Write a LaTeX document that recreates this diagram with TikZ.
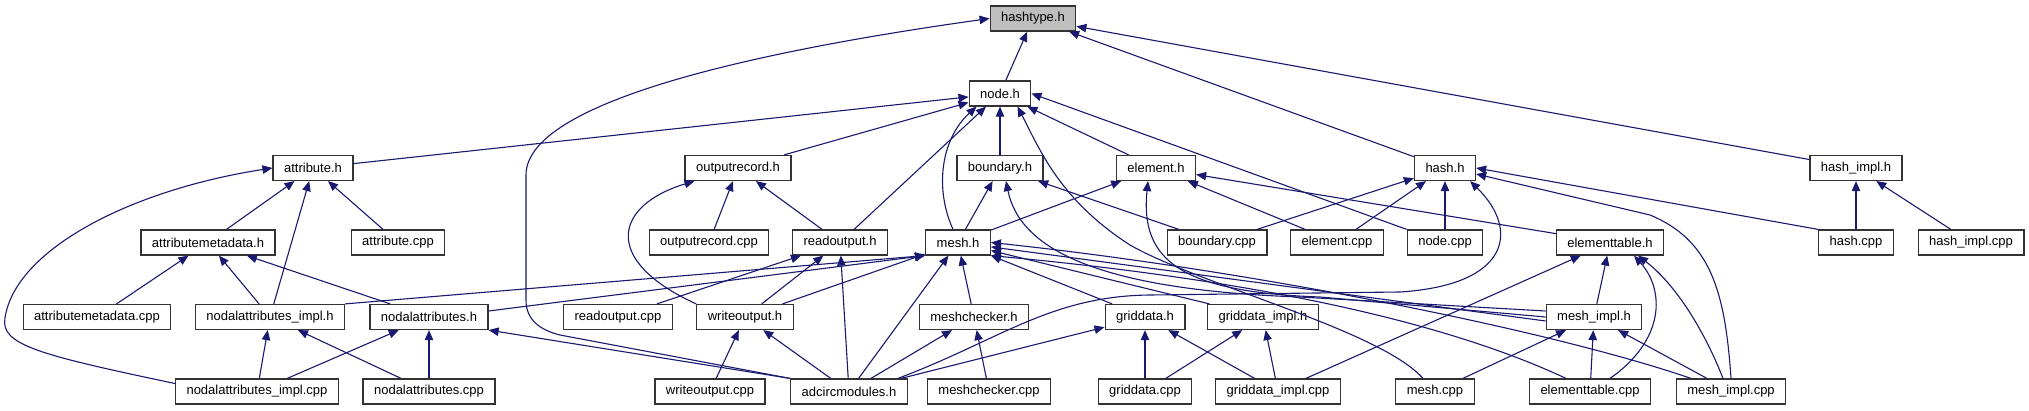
\documentclass[tikz,border=0pt]{standalone}
\usepackage{fontspec}
\setmainfont{Liberation Sans}
\usepackage{xcolor}
\usetikzlibrary{arrows.meta}
\definecolor{midblue}{HTML}{191970}
\tikzset{
  file/.style={rectangle,draw=black!80,fill=white,line width=.6pt,minimum height=12.5pt,inner xsep=5.5pt,inner ysep=0pt,font=\fontsize{6.5}{7.5}\selectfont},
  filecur/.style={file,fill=black!25},
  incl/.style={line width=.55pt,midblue,-{Triangle[length=5pt,width=4.2pt]}},
}
\begin{document}
\begin{tikzpicture}[x=.5pt,y=-.5pt]
  \path[use as bounding box,fill=white] (0,0) rectangle (2029,411);
  \node[filecur] (hashtype) at (1033,18.5) {hashtype.h};
  \node[file] (nodeh) at (1000,93.5) {node.h};
  \node[file] (attrh) at (313,168) {attribute.h};
  \node[file] (outrech) at (738,168) {outputrecord.h};
  \node[file] (boundh) at (1000,168) {boundary.h};
  \node[file] (elemh) at (1156,168) {element.h};
  \node[file] (hashh) at (1445,168) {hash.h};
  \node[file] (hashimplh) at (1856,168) {hash\_impl.h};
  \node[file] (attrmetah) at (208,242.5) {attributemetadata.h};
  \node[file] (attrcpp) at (398,242.5) {attribute.cpp};
  \node[file] (outreccpp) at (709,242.5) {outputrecord.cpp};
  \node[file] (readouth) at (840,242.5) {readoutput.h};
  \node[file] (meshh) at (958,242.5) {mesh.h};
  \node[file] (boundcpp) at (1217,242.5) {boundary.cpp};
  \node[file] (elemcpp) at (1337,242.5) {element.cpp};
  \node[file] (nodecpp) at (1445,242.5) {node.cpp};
  \node[file] (etabh) at (1610,242.5) {elementtable.h};
  \node[file] (hashcpp) at (1856,242.5) {hash.cpp};
  \node[file] (hashimplcpp) at (1971,242.5) {hash\_impl.cpp};
  \node[file] (attrmetacpp) at (97,317) {attributemetadata.cpp};
  \node[file] (nodimplh) at (270,317) {nodalattributes\_impl.h};
  \node[file] (nodh) at (429,317) {nodalattributes.h};
  \node[file] (readoutcpp) at (618,317) {readoutput.cpp};
  \node[file] (writeouth) at (745,317) {writeoutput.h};
  \node[file] (mcheckh) at (974,317) {meshchecker.h};
  \node[file] (gridh) at (1145,317) {griddata.h};
  \node[file] (gridimplh) at (1263,317) {griddata\_impl.h};
  \node[file] (meshimplh) at (1594,317) {mesh\_impl.h};
  \node[file] (nodimplcpp) at (257,391.5) {nodalattributes\_impl.cpp};
  \node[file] (nodcpp) at (429,391.5) {nodalattributes.cpp};
  \node[file] (writeoutcpp) at (710,391.5) {writeoutput.cpp};
  \node[file] (adcirch) at (849,391.5) {adcircmodules.h};
  \node[file] (mcheckcpp) at (989,391.5) {meshchecker.cpp};
  \node[file] (gridcpp) at (1145,391.5) {griddata.cpp};
  \node[file] (gridimplcpp) at (1278,391.5) {griddata\_impl.cpp};
  \node[file] (meshcpp) at (1435,391.5) {mesh.cpp};
  \node[file] (etabcpp) at (1590,391.5) {elementtable.cpp};
  \node[file] (meshimplcpp) at (1731,391.5) {mesh\_impl.cpp};
  \draw[incl] (nodeh) -- (hashtype);
  \draw[incl] (hashh) -- (hashtype);
  \draw[incl] (hashimplh) -- (hashtype);
  \draw[incl] (adcirch.north west) -- (560,335) .. controls (540,330) and (526,320) .. (526,300) -- (526,175) .. controls (526,95) and (800,45) .. (hashtype.west);
  \draw[incl] (attrh) -- (nodeh);
  \draw[incl] (outrech) -- (nodeh);
  \draw[incl] (readouth) -- (nodeh);
  \draw[incl] (boundh) -- (nodeh);
  \draw[incl] (elemh) -- (nodeh);
  \draw[incl] (nodecpp.north west) -- (nodeh.east);
  \draw[incl] ([xshift=-2.5pt]meshh.north) .. controls (935,190) and (940,140) .. ([xshift=4pt]nodeh.south west);
  \draw[incl] ([xshift=-6pt]meshcpp.north) .. controls (1380,330) and (1200,285) .. (1130,245) .. controls (1060,200) and (1040,150) .. ([xshift=-7pt]nodeh.south east);
  \draw[incl] (attrmetah) -- (attrh);
  \draw[incl] (nodimplh) -- (attrh);
  \draw[incl] (attrcpp) -- (attrh);
  \draw[incl] ([yshift=4pt]nodimplcpp.west) .. controls (40,355) and (0,345) .. (5,318) .. controls (15,250) and (130,190) .. (attrh.west);
  \draw[incl] (attrmetacpp) -- (attrmetah);
  \draw[incl] (nodimplh) -- (attrmetah);
  \draw[incl] (nodh) -- (attrmetah);
  \draw[incl] (nodimplcpp) -- (nodimplh);
  \draw[incl] (nodcpp) -- (nodimplh);
  \draw[incl] (nodimplcpp) -- (nodh);
  \draw[incl] (nodcpp) -- (nodh);
  \draw[incl] (adcirch.north west) -- (nodh.south east);
  \draw[incl] (outreccpp) -- (outrech);
  \draw[incl] (readouth) -- (outrech);
  \draw[incl] (writeouth.north west) .. controls (600,260) and (615,205) .. ([xshift=5pt]outrech.south west);
  \draw[incl] (readoutcpp) -- (readouth);
  \draw[incl] (writeouth) -- (readouth);
  \draw[incl] (adcirch) -- (readouth);
  \draw[incl] (meshh) -- (boundh);
  \draw[incl] (boundcpp) -- (boundh);
  \draw[incl] ([yshift=3pt]meshimplh.west) -- (1300,297) .. controls (1100,290) and (1020,250) .. ([xshift=3pt]boundh.south);
  \draw[incl] (meshh) -- (elemh);
  \draw[incl] (elemcpp) -- (elemh);
  \draw[incl] (etabh) -- (elemh);
  \draw[incl] (meshimplh.west) -- (1320,297) .. controls (1180,292) and (1140,260) .. ([xshift=-4pt]elemh.south);
  \draw[incl] (boundcpp) -- (hashh);
  \draw[incl] (elemcpp) -- (hashh);
  \draw[incl] (nodecpp) -- (hashh);
  \draw[incl] (hashcpp.north west) -- (hashh.east);
  \draw[incl] ([xshift=-5pt]adcirch.north east) .. controls (1000,340) and (1050,296) .. (1150,295) -- (1400,292) .. controls (1510,285) and (1520,230) .. ([xshift=-3pt]hashh.south east);
  \draw[incl] (meshimplcpp.north) .. controls (1725,290) and (1710,240) .. (1650,215) -- ([yshift=-3pt]hashh.east);
  \draw[incl] (hashcpp) -- (hashimplh);
  \draw[incl] (hashimplcpp) -- (hashimplh);
  \draw[incl] (nodimplh.north east) -- (meshh.south west);
  \draw[incl] ([yshift=3pt]nodh.east) -- (meshh.south west);
  \draw[incl] (writeouth) -- (meshh);
  \draw[incl] (adcirch) -- (meshh);
  \draw[incl] (mcheckh) -- (meshh);
  \draw[incl] (gridh) -- (meshh);
  \draw[incl] (gridimplh) -- (meshh);
  \draw[incl] ([yshift=-2pt]meshimplh.west) -- (meshh);
  \draw[incl] ([xshift=-12pt]etabcpp.north) .. controls (1420,310) and (1200,275) .. (meshh.south east);
  \draw[incl] ([xshift=-20pt]meshimplcpp.north) .. controls (1550,330) and (1250,270) .. (meshh.east);
  \draw[incl] (writeoutcpp) -- (writeouth);
  \draw[incl] (adcirch) -- (writeouth);
  \draw[incl] (adcirch) -- (mcheckh);
  \draw[incl] (mcheckcpp) -- (mcheckh);
  \draw[incl] (adcirch) -- (gridh);
  \draw[incl] (gridcpp) -- (gridh);
  \draw[incl] (gridimplcpp) -- (gridh);
  \draw[incl] (gridcpp) -- (gridimplh);
  \draw[incl] (gridimplcpp) -- (gridimplh);
  \draw[incl] ([xshift=14pt]gridimplcpp.north) -- (etabh);
  \draw[incl] (meshimplh) -- (etabh);
  \draw[incl] ([xshift=10pt]etabcpp.north) .. controls (1665,340) and (1665,290) .. ([xshift=12pt]etabh.south);
  \draw[incl] ([xshift=-4pt]meshimplcpp.north) .. controls (1700,320) and (1670,280) .. ([xshift=14pt]etabh.south);
  \draw[incl] (meshcpp) -- (meshimplh);
  \draw[incl] (etabcpp) -- (meshimplh);
  \draw[incl] (meshimplcpp) -- (meshimplh);
\end{tikzpicture}
\end{document}
